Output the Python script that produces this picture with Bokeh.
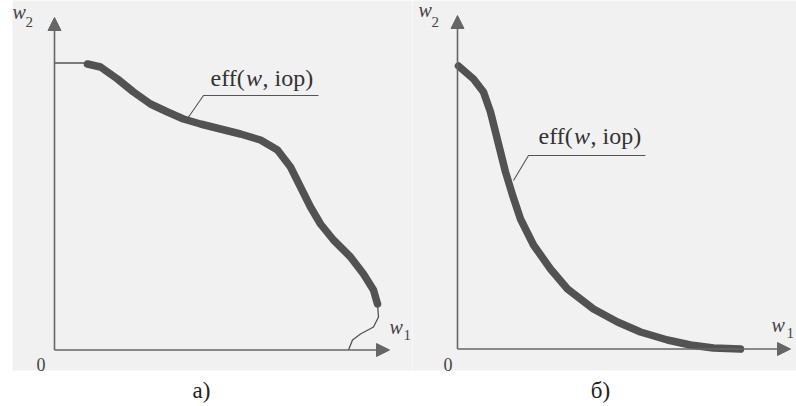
from bokeh.plotting import figure
from bokeh.models import Range1d, Arrow, NormalHead, Label, BoxAnnotation
from bokeh.layouts import row
from bokeh.embed import file_html
from bokeh.resources import INLINE

# ---- data (w1, w2) in drawing units ----
# panel a): thin lead-in, thick efficient part, thin tail
a_lead_w1 = [0.00, 0.33]
a_lead_w2 = [2.87, 2.87]
a_eff_w1 = [0.33, 0.46, 0.63, 0.79, 0.96, 1.13, 1.29, 1.46, 1.66, 1.86, 2.06, 2.23,
            2.36, 2.46, 2.56, 2.66, 2.79, 2.96, 3.09, 3.19, 3.23]
a_eff_w2 = [2.86, 2.83, 2.71, 2.58, 2.46, 2.38, 2.31, 2.26, 2.21, 2.16, 2.10, 2.00,
            1.83, 1.63, 1.43, 1.26, 1.10, 0.93, 0.76, 0.60, 0.46]
a_tail_w1 = [3.23, 3.24, 3.19, 3.06, 2.98, 2.94]
a_tail_w2 = [0.46, 0.33, 0.23, 0.16, 0.10, 0.00]

# panel б)
b_eff_w1 = [0.01, 0.16, 0.26, 0.33, 0.38, 0.43, 0.48, 0.55, 0.63, 0.76, 0.93, 1.10,
            1.36, 1.60, 1.83, 2.10, 2.33, 2.56, 2.83]
b_eff_w2 = [2.83, 2.70, 2.57, 2.37, 2.17, 1.97, 1.77, 1.54, 1.30, 1.04, 0.80, 0.60,
            0.40, 0.27, 0.17, 0.09, 0.04, 0.01, 0.00]

curve_label = ["eff(", "w", ", iop)"]
captions = ["а)", "б)"]

PAPER = "#f1f1f1"
CURVE = "#525252"
AXIS = "#666666"
SERIF = "Liberation Serif"
H = 406
S = 100.0  # px per unit


def make_panel(width, ox, oy, page_left):
    """ox, oy: picture pixel position of the origin; page_left: picture x of figure's left edge"""
    fx0 = ox - page_left
    fy0 = oy
    p = figure(width=width, height=H, output_backend="svg", toolbar_location=None,
               x_range=Range1d(-fx0 / S, (width - fx0) / S),
               y_range=Range1d(-(H - fy0) / S, fy0 / S),
               min_border=0, outline_line_color=None,
               background_fill_color="white", border_fill_color="white")
    p.axis.visible = False
    p.grid.visible = False

    def X(px):
        return (px - ox) / S

    def Y(py):
        return (oy - py) / S
    return p, X, Y


def add_axes(p, xtip, ytip):
    head = dict(size=13, fill_color=AXIS, line_color=AXIS, line_width=1)
    p.add_layout(Arrow(end=NormalHead(**head), x_start=0, y_start=0, x_end=0, y_end=ytip,
                       line_color=AXIS, line_width=1.6))
    p.add_layout(Arrow(end=NormalHead(**head), x_start=0, y_start=0, x_end=xtip, y_end=0,
                       line_color=AXIS, line_width=1.6))


def lab(p, Yf, x, py, text, size, style="normal", align="left", color="#444444"):
    # py: wanted baseline in picture pixels; labels render ~0.36em low, so lift them
    p.add_layout(Label(x=x, y=Yf(py - 0.36 * size), text=text, text_font=SERIF,
                       text_font_size=f"{size}px", text_font_style=style, text_align=align,
                       text_baseline="alphabetic", text_color=color))


def eff_label(p, Yf, x, py):
    # "eff(" + italic "w" + ", iop)"
    lab(p, Yf, x, py, curve_label[0], 24, color="#333333")
    lab(p, Yf, x + 0.355, py, curve_label[1], 24, style="italic", color="#333333")
    lab(p, Yf, x + 0.52, py, curve_label[2], 24, color="#333333")


# ---------------- panel a) ----------------
pa, XA, YA = make_panel(412, 54, 349.5, 0)
pa.add_layout(BoxAnnotation(left=XA(12), right=XA(420), bottom=YA(370), top=YA(-5),
                            fill_color=PAPER, fill_alpha=1, line_color=None, level="underlay"))
add_axes(pa, XA(389), YA(17))
pa.line(a_lead_w1, a_lead_w2, line_color=CURVE, line_width=1.3)
pa.line(a_tail_w1, a_tail_w2, line_color=CURVE, line_width=1.3)
pa.line(a_eff_w1, a_eff_w2, line_color=CURVE, line_width=7.5, line_join="round", line_cap="round")
# leader line
pa.line([XA(187), XA(203), XA(318)], [YA(118), YA(95), YA(95)], line_color="#555555", line_width=1.1)
eff_label(pa, YA, XA(210), 86)
lab(pa, YA, XA(12), 19, "w", 20, style="italic")
lab(pa, YA, XA(25), 27, "2", 15)
lab(pa, YA, XA(36), 370, "0", 18)
lab(pa, YA, XA(389), 334, "w", 20, style="italic")
lab(pa, YA, XA(403), 340, "1", 15)
lab(pa, YA, XA(201), 398, captions[0], 23, align="center", color="#222222")

# ---------------- panel б) ----------------
pb, XB, YB = make_panel(384, 457, 348.5, 412)
pb.add_layout(BoxAnnotation(left=XB(405), right=XB(810), bottom=YB(370), top=YB(-5),
                            fill_color=PAPER, fill_alpha=1, line_color=None, level="underlay"))
add_axes(pb, XB(790), YB(15))
pb.line(b_eff_w1, b_eff_w2, line_color=CURVE, line_width=7.5, line_join="round", line_cap="round")
pb.line([XB(513), XB(528), XB(645)], [YB(180), YB(155), YB(155)], line_color="#555555", line_width=1.1)
eff_label(pb, YB, XB(538), 144)
lab(pb, YB, XB(418), 17, "w", 20, style="italic")
lab(pb, YB, XB(431), 27, "2", 15)
lab(pb, YB, XB(443), 370, "0", 18)
lab(pb, YB, XB(771), 332, "w", 20, style="italic")
lab(pb, YB, XB(786), 338, "1", 15)
lab(pb, YB, XB(600), 398, captions[1], 23, align="center", color="#222222")

layout = row(pa, pb, spacing=0)
open("out.html", "w").write(file_html(layout, INLINE))
